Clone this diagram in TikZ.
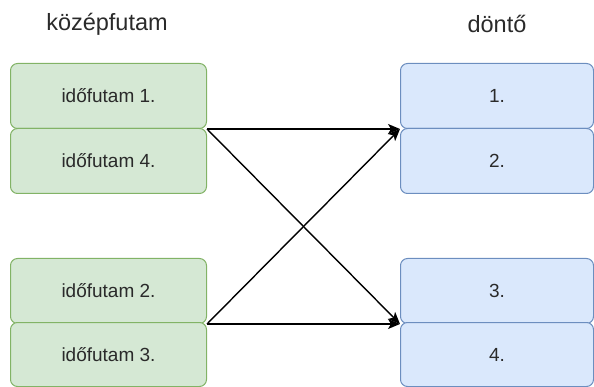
\documentclass[tikz,border=0pt]{standalone}
\usepackage{fontspec}
\setmainfont{Liberation Sans}
\usetikzlibrary{arrows.meta}
\definecolor{gfill}{HTML}{D5E8D4}
\definecolor{gline}{HTML}{82B366}
\definecolor{bfill}{HTML}{DAE8FC}
\definecolor{bline}{HTML}{6C8EBF}
\definecolor{txt}{HTML}{2A2A2A}
\begin{document}
\begin{tikzpicture}[x=1pt,y=-1pt,
  box/.style={rounded corners=7pt,line width=1pt,minimum width=196pt,minimum height=65pt,inner sep=0pt,anchor=north west,text=txt,font=\fontsize{19}{21}\selectfont},
  gbox/.style={box,fill=gfill,draw=gline},
  bbox/.style={box,fill=bfill,draw=bline,minimum width=193pt},
  title/.style={text=txt,font=\fontsize{23.5}{26}\selectfont},
  conn/.style={line width=1.4pt,-{Stealth[length=12pt,width=10pt,inset=3pt]}}]
\useasboundingbox (0,0) rectangle (594,387);
\node[title] (tl) at (107,24) {középfutam};
\node[title] (tr) at (497,24) {döntő};
\node[gbox] (g1) at (10,63) {időfutam 1.};
\node[gbox] (g4) at (10,128) {időfutam 4.};
\node[gbox] (g2) at (10,258) {időfutam 2.};
\node[gbox,minimum height=64pt] (g3) at (10,322) {időfutam 3.};
\node[bbox] (b1) at (400,63) {1.};
\node[bbox] (b2) at (400,128) {2.};
\node[bbox] (b3) at (400,258) {3.};
\node[bbox,minimum height=64pt] (b4) at (400,322) {4.};
\draw[conn] (g1.south east) -- (b1.south west);
\draw[conn] (g1.south east) -- (b3.south west);
\draw[conn] (g2.south east) -- (b1.south west);
\draw[conn] (g2.south east) -- (b3.south west);
\end{tikzpicture}
\end{document}
